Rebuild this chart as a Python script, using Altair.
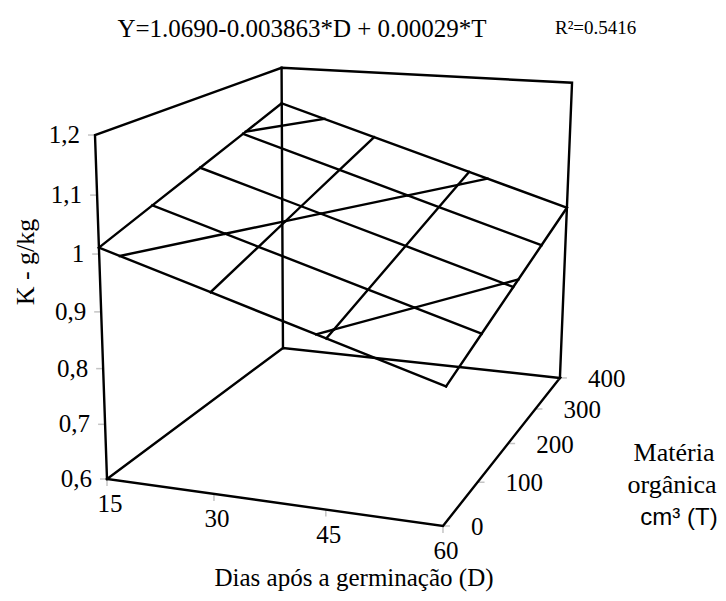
import altair as alt
import pandas as pd

# ---------------- data ----------------
D_VALUES = [15, 30, 45, 60]                 # Dias após a germinação (D)
T_VALUES = [0, 100, 200, 300, 400]          # Matéria orgânica cm3 (T)
K_TICKS = [0.6, 0.7, 0.8, 0.9, 1.0, 1.1, 1.2]
K_TICK_LABELS = ["0,6", "0,7", "0,8", "0,9", "1", "1,1", "1,2"]
D_TICK_LABELS = ["15", "30", "45", "60"]
T_TICK_LABELS = ["0", "100", "200", "300", "400"]
# fitted K (g/kg) at the surface grid nodes: rows = T values, columns = D values
K_GRID = [
    [1.011, 0.953, 0.895, 0.837],
    [1.040, 0.982, 0.924, 0.866],
    [1.069, 1.011, 0.953, 0.895],
    [1.098, 1.040, 0.982, 0.924],
    [1.127, 1.069, 1.011, 0.953],
]
CONTOUR_LEVELS = [0.9, 1.0, 1.1]
EQUATION = "Y=1.0690-0.003863*D + 0.00029*T"
R2_TEXT = "R²=0.5416"

# ---------------- 3D camera (projective view of the unit cube) ----------------
D0, D1 = min(D_VALUES), max(D_VALUES)
T0, T1 = min(T_VALUES), max(T_VALUES)
K0, K1 = min(K_TICKS), max(K_TICKS)
CAM = dict(x0=107, xu=306.74, xv=244.17, xw=-17.23,
           y0=479, yu=12.26, yv=-47.17, yw=-351.4,
           du=-0.066, dv=0.241, dw=-0.055)

SERIF = "Liberation Serif"
SANS = "Liberation Sans"
INK = "#000000"
TICK = "#c4c4c4"
W, H = 710, 585


def project(ch):
    c = CAM
    return ch.transform_calculate(
        u=f"(datum.D-{D0})/{D1 - D0}",
        v=f"(datum.T-{T0})/{T1 - T0}",
        w=f"(datum.K-{K0})/{K1 - K0}",
    ).transform_calculate(
        den=f"1+({c['du']})*datum.u+({c['dv']})*datum.v+({c['dw']})*datum.w",
    ).transform_calculate(
        px=f"({c['x0']}+({c['xu']})*datum.u+({c['xv']})*datum.v+({c['xw']})*datum.w)/datum.den",
        py=f"({c['y0']}+({c['yu']})*datum.u+({c['yv']})*datum.v+({c['yw']})*datum.w)/datum.den",
    )


XS = alt.Scale(domain=[8, 8 + W], nice=False, zero=False)
YS = alt.Scale(domain=[8, 8 + H], nice=False, zero=False, reverse=True)
X = alt.X("px:Q", scale=XS, axis=None)
Y = alt.Y("py:Q", scale=YS, axis=None)

# ---------------- line geometry ----------------
rows = []


def add_line(name, pts):
    for i, (d, t, k) in enumerate(pts):
        rows.append({"seg": name, "ord": i, "D": d, "T": t, "K": k})


# box: floor, walls
add_line("floor", [(D0, T0, K0), (D1, T0, K0), (D1, T1, K0), (D0, T1, K0), (D0, T0, K0)])
add_line("walls", [(D0, T0, K0), (D0, T0, K1), (D0, T1, K1), (D1, T1, K1), (D1, T1, K0)])
add_line("backleft", [(D0, T1, K0), (D0, T1, K1)])

# surface mesh
for i, t in enumerate(T_VALUES):
    add_line(f"row{i}", [(d, t, K_GRID[i][j]) for j, d in enumerate(D_VALUES)])
for j, d in enumerate(D_VALUES):
    add_line(f"col{j}", [(d, t, K_GRID[i][j]) for i, t in enumerate(T_VALUES)])

# contour lines (marching squares on the surface grid)
n = 0
for lev in CONTOUR_LEVELS:
    for i in range(len(T_VALUES) - 1):
        for j in range(len(D_VALUES) - 1):
            corners = [(i, j), (i, j + 1), (i + 1, j + 1), (i + 1, j)]
            pts = []
            for a in range(4):
                ia, ja = corners[a]
                ib, jb = corners[(a + 1) % 4]
                ka, kb = K_GRID[ia][ja], K_GRID[ib][jb]
                if (ka - lev) * (kb - lev) < 0:
                    f = (lev - ka) / (kb - ka)
                    d = D_VALUES[ja] + f * (D_VALUES[jb] - D_VALUES[ja])
                    t = T_VALUES[ia] + f * (T_VALUES[ib] - T_VALUES[ia])
                    pts.append((d, t, lev))
            for p in range(0, len(pts) - 1, 2):
                add_line(f"c{n}", [pts[p], pts[p + 1]])
                n += 1

lines_df = pd.DataFrame(rows)

lines = project(alt.Chart(lines_df)).mark_line(
    color=INK, strokeWidth=2.4, strokeCap="square", strokeJoin="miter"
).encode(x=X, y=Y, detail="seg:N", order="ord:Q")

# ---------------- ticks and tick labels ----------------
k_df = pd.DataFrame({"K": K_TICKS, "label": K_TICK_LABELS, "D": D0, "T": T0})
d_df = pd.DataFrame({"D": D_VALUES, "label": D_TICK_LABELS, "T": T0, "K": K0})
t_df = pd.DataFrame({"T": T_VALUES, "label": T_TICK_LABELS, "D": D1, "K": K0})

k_ticks = project(alt.Chart(k_df)).transform_calculate(
    px2="datum.px-7", py2="datum.py").mark_rule(color=TICK, strokeWidth=1.5).encode(
    x=X, y=Y, x2="px2:Q", y2="py2:Q")
d_ticks = project(alt.Chart(d_df)).transform_calculate(
    px2="datum.px", py2="datum.py+7").mark_rule(color=TICK, strokeWidth=1.5).encode(
    x=X, y=Y, x2="px2:Q", y2="py2:Q")
t_ticks = project(alt.Chart(t_df)).transform_calculate(
    px2="datum.px+7", py2="datum.py").mark_rule(color=TICK, strokeWidth=1.5).encode(
    x=X, y=Y, x2="px2:Q", y2="py2:Q")

k_labels = project(alt.Chart(k_df)).mark_text(
    align="right", baseline="middle", dx=-15, font=SERIF, fontSize=25, color=INK
).encode(x=X, y=Y, text="label:N")
d_labels = project(alt.Chart(d_df)).mark_text(
    align="center", baseline="middle", dx=3, dy=25, font=SERIF, fontSize=25, color=INK
).encode(x=X, y=Y, text="label:N")
t_labels = project(alt.Chart(t_df)).mark_text(
    align="left", baseline="middle", dx=28, dy=1, font=SERIF, fontSize=25, color=INK
).encode(x=X, y=Y, text="label:N")

# ---------------- titles ----------------
one = alt.Chart(pd.DataFrame({"a": [0]}))


def txt(text, x, y, **kw):
    opts = dict(font=SERIF, fontSize=25, color=INK, baseline="middle", align="center")
    opts.update(kw)
    return one.mark_text(text=text, **opts).encode(x=alt.value(x), y=alt.value(y))


titles = [
    txt(EQUATION, 294, 21),
    txt(R2_TEXT, 547, 20, align="left", fontSize=19),
    txt("K - g/kg", 18, 254, angle=270, fontSize=26),
    txt("Dias após a germinação (D)", 346, 570),
    txt("Matéria", 666, 445, fontSize=26),
    txt("orgânica", 664, 477, fontSize=26),
    txt("cm³ (T)", 671, 510, font=SANS, fontSize=24),
]

chart = alt.layer(
    k_ticks, d_ticks, t_ticks, lines, k_labels, d_labels, t_labels, *titles
).properties(
    width=W, height=H, padding=0,
    autosize=alt.AutoSizeParams(type="none"),
    background="white",
).configure_view(stroke=None)

chart.save("out.html", embed_options={"renderer": "svg", "actions": False})
